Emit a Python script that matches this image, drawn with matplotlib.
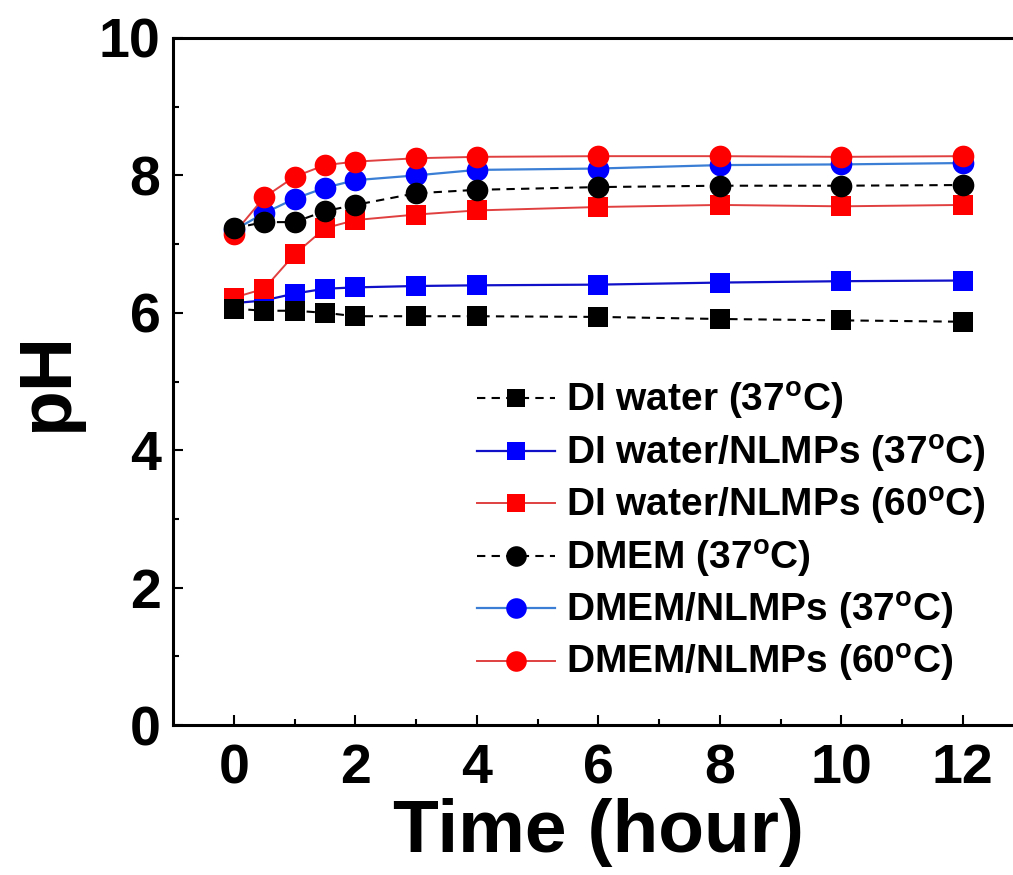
import matplotlib
matplotlib.use("Agg")
import matplotlib.pyplot as plt
import numpy as np

plt.rcParams['font.family'] = ['Liberation Sans', 'DejaVu Sans']
plt.rcParams['font.weight'] = 'bold'
plt.rcParams['mathtext.fontset'] = 'custom'
plt.rcParams['mathtext.rm'] = 'Liberation Sans:bold'
plt.rcParams['mathtext.bf'] = 'Liberation Sans:bold'

time = [0, 0.5, 1, 1.5, 2, 3, 4, 6, 8, 10, 12]

di_water_37 = [6.06, 6.03, 6.03, 6.00, 5.95, 5.95, 5.95, 5.94, 5.91, 5.89, 5.87]
di_nlmp_37 = [6.14, 6.18, 6.28, 6.35, 6.37, 6.39, 6.40, 6.41, 6.44, 6.46, 6.47]
di_nlmp_60 = [6.22, 6.35, 6.85, 7.23, 7.35, 7.43, 7.49, 7.54, 7.57, 7.55, 7.57]
dmem_37 = [7.23, 7.32, 7.32, 7.48, 7.57, 7.74, 7.79, 7.83, 7.85, 7.85, 7.86]
dmem_nlmp_37 = [7.20, 7.45, 7.66, 7.82, 7.93, 8.00, 8.08, 8.10, 8.15, 8.16, 8.18]
dmem_nlmp_60 = [7.15, 7.68, 7.98, 8.15, 8.20, 8.25, 8.27, 8.28, 8.28, 8.27, 8.28]

deg = r'$^{\rm o}$'
labels = ['DI water (37' + deg + 'C)',
          'DI water/NLMPs (37' + deg + 'C)',
          'DI water/NLMPs (60' + deg + 'C)',
          'DMEM (37' + deg + 'C)',
          'DMEM/NLMPs (37' + deg + 'C)',
          'DMEM/NLMPs (60' + deg + 'C)']

fig = plt.figure(figsize=(10.13, 8.75), dpi=100)
ax = fig.add_axes([173 / 1013, 1 - 725 / 875, (1023.5 - 173) / 1013, (725 - 38) / 875])

sq = 13.7
ci = 15.6
ax.plot(time, di_water_37, '--', color='black', lw=1.5, dashes=(4, 3),
        marker='s', ms=sq, mfc='black', mec='black', mew=0, zorder=4, label=labels[0])
ax.plot(time, di_nlmp_37, '-', color='#1010c8', lw=1.6,
        marker='s', ms=sq, mfc='#0000ff', mec='#0000ff', mew=0, zorder=2, label=labels[1])
ax.plot(time, di_nlmp_60, '-', color='#e04040', lw=1.4,
        marker='s', ms=sq, mfc='#ff0000', mec='#ff0000', mew=0, zorder=3, label=labels[2])
ax.plot(time, dmem_37, '--', color='black', lw=1.5, dashes=(4, 3),
        marker='o', ms=ci, mfc='black', mec='black', mew=0, zorder=4, label=labels[3])
ax.plot(time, dmem_nlmp_37, '-', color='#3a7fd5', lw=1.6,
        marker='o', ms=ci, mfc='#0000ff', mec='#0000ff', mew=0, zorder=2, label=labels[4])
ax.plot(time, dmem_nlmp_60, '-', color='#e04040', lw=1.4,
        marker='o', ms=ci, mfc='#ff0000', mec='#ff0000', mew=0, zorder=3, label=labels[5])

ax.set_xlim(-1, 13)
ax.set_ylim(0, 10)
ax.set_xticks(np.arange(0, 13, 2))
ax.set_xticks(np.arange(1, 12, 2), minor=True)
ax.set_yticks(np.arange(0, 11, 2))
ax.set_yticks(np.arange(1, 10, 2), minor=True)

for s in ax.spines.values():
    s.set_linewidth(2.2)
ax.spines['right'].set_visible(False)

ax.tick_params(which='both', direction='in', top=False, right=False, width=1.5)
ax.tick_params(which='major', length=7, labelsize=40)
ax.tick_params(which='minor', length=4)
ax.tick_params(axis='x', which='major', pad=13)
ax.tick_params(axis='y', which='major', pad=9)

ax.set_xlabel('Time (hour)', fontsize=54, fontweight='bold', labelpad=2)
ax.set_ylabel('pH', fontsize=54, fontweight='bold', labelpad=12)

ax.legend(loc='upper left', bbox_to_anchor=(477 / 1013, 1 - 380 / 875),
          bbox_transform=fig.transFigure, frameon=False, fontsize=28,
          handlelength=2.0, handletextpad=0.3, labelspacing=0.27,
          borderpad=0, borderaxespad=0, markerscale=0.95)

fig.savefig('out.png', dpi=100)
